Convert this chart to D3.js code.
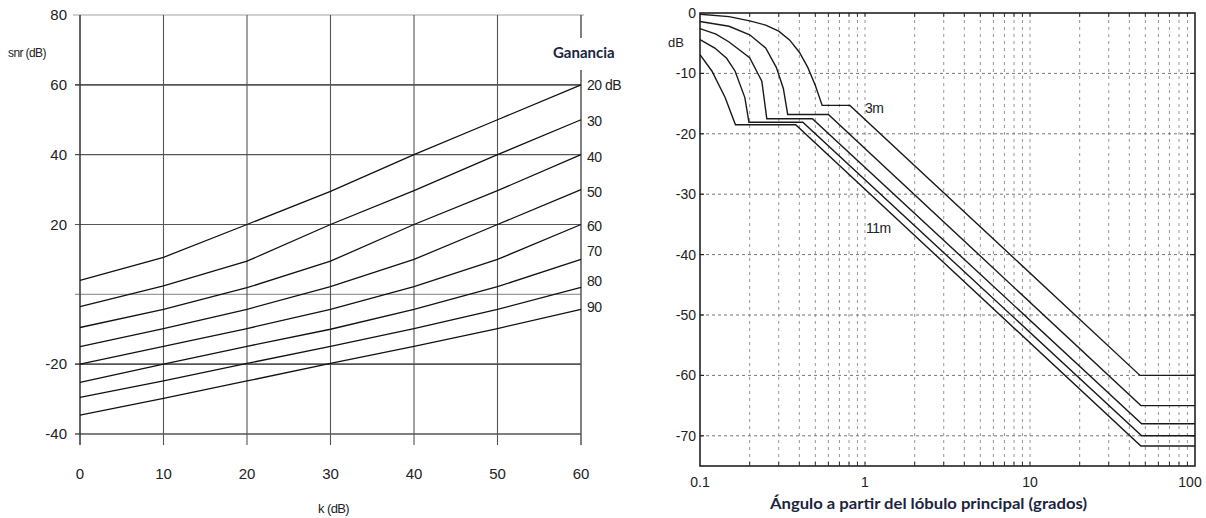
<!DOCTYPE html>
<html><head><meta charset="utf-8">
<script src="https://cdn.jsdelivr.net/npm/d3@7/dist/d3.min.js"></script>
<style>
html,body{margin:0;padding:0;background:#fff;}
svg{display:block;}
.num{font-family:"Liberation Sans Narrow","Arial Narrow","Liberation Sans",Arial,sans-serif;fill:#222;}
.ttl{font-family:Lato,"Open Sans",sans-serif;font-weight:700;fill:#1b2540;}
</style></head>
<body>
<svg id="c" width="1206" height="518"></svg>
<script>
// ---------- LEFT CHART DATA ----------
const kTicks = [0, 10, 20, 30, 40, 50, 60];
const snrTicks = [80, 60, 40, 20, 0, -20, -40];
const snrTickLabels = ["80", "60", "40", "20", "", "-20", "-40"];
const gainLabels = ["20 dB", "30", "40", "50", "60", "70", "80", "90"];
const kValues = [0, 10, 20, 30, 40, 50, 60];
const snrG20 = [4, 10.6, 20, 29.5, 40, 50, 60];
const snrG30 = [-3.5, 2.4, 9.5, 20, 29.7, 40, 50];
const snrG40 = [-9.5, -4.3, 1.9, 9.5, 20, 29.7, 40];
const snrG50 = [-15, -9.8, -4.3, 2.2, 10, 20, 30];
const snrG60 = [-20, -14.9, -9.8, -4.3, 2.2, 10, 20];
const snrG70 = [-25.2, -20, -14.9, -10, -4.3, 2.2, 10];
const snrG80 = [-29.5, -24.8, -19.8, -14.9, -9.8, -4.3, 2];
const snrG90 = [-34.6, -29.8, -24.8, -19.8, -14.9, -9.8, -4.3];
const gainSeries = [snrG20, snrG30, snrG40, snrG50, snrG60, snrG70, snrG80, snrG90];

// ---------- RIGHT CHART DATA ----------
const angleTicks = [0.1, 1, 10, 100];
const angleTickLabels = ["0.1", "1", "10", "100"];
const dbTicks = [0, -10, -20, -30, -40, -50, -60, -70];
// [angle (degrees), level (dB)]
const curve3m = [[0.1,-0.2],[0.15,-0.6],[0.2,-1.3],[0.25,-2],[0.3,-3],[0.35,-4.5],[0.4,-6.5],[0.45,-9],[0.5,-12],[0.55,-15.3],[0.81,-15.3],[46.4,-60],[100,-60]];
const curve5m = [[0.1,-1.4],[0.15,-2.2],[0.2,-3.6],[0.25,-5.8],[0.29,-9],[0.32,-12.5],[0.34,-16.8],[0.6,-16.8],[47,-65],[100,-65]];
const curve7m = [[0.1,-2.6],[0.125,-3.5],[0.15,-4.8],[0.2,-7.4],[0.237,-11.3],[0.254,-17.5],[0.48,-17.5],[47.5,-68],[100,-68]];
const curve9m = [[0.1,-4.4],[0.123,-5.8],[0.145,-7.5],[0.163,-9.6],[0.187,-14],[0.198,-18.1],[0.42,-18.1],[47.5,-70],[100,-70]];
const curve11m = [[0.1,-6.9],[0.118,-9.6],[0.142,-14],[0.164,-18.5],[0.38,-18.5],[47,-71.7],[100,-71.7]];
const curvesR = [curve3m, curve5m, curve7m, curve9m, curve11m];

const svg = d3.select("#c");

// ================= LEFT =================
const xL = d3.scaleLinear().domain([0, 60]).range([80, 581]);
const yL = d3.scaleLinear().domain([-40, 80]).range([434, 15]);
const L = svg.append("g");

// horizontal grid
snrTicks.forEach(v => {
  const top = v === 80, zero = v === 0;
  L.append("line")
    .attr("x1", xL(0) - (top ? 7 : 5)).attr("x2", xL(60) + (top ? 3 : 0))
    .attr("y1", yL(v)).attr("y2", yL(v))
    .attr("stroke", top ? "#d0d0d0" : zero ? "#9a9a9a" : "#555")
    .attr("stroke-width", top ? 2.2 : (v === 60 || v === -20 || v === -40) ? 1.6 : 1.1);
});
// vertical grid
kTicks.forEach(v => {
  L.append("line")
    .attr("x1", xL(v)).attr("x2", xL(v))
    .attr("y1", yL(80)).attr("y2", yL(-40) + 11)
    .attr("stroke", v === 0 ? "#333" : "#555")
    .attr("stroke-width", v === 0 || v === 60 ? 1.5 : 1.1);
});
// y tick labels
snrTicks.forEach((v, i) => {
  L.append("text").attr("class", "num")
    .attr("x", xL(0) - 13).attr("y", yL(v)).attr("dy", "0.35em")
    .attr("text-anchor", "end").attr("font-size", 15)
    .text(snrTickLabels[i]);
});
// x tick labels
kTicks.forEach(v => {
  L.append("text").attr("class", "num")
    .attr("x", xL(v)).attr("y", 474).attr("dy", "0.35em")
    .attr("text-anchor", "middle").attr("font-size", 15)
    .text(v);
});
L.append("text").attr("class", "num").attr("x", 8).attr("y", 57)
  .attr("font-size", 12).attr("letter-spacing", -0.6).text("snr (dB)");
L.append("text").attr("class", "num").attr("x", 318).attr("y", 513)
  .attr("font-size", 13).attr("letter-spacing", -0.6).text("k (dB)");

// curves
const lineL = d3.line().x((d, i) => xL(kValues[i])).y(d => yL(d));
gainSeries.forEach(s => {
  L.append("path").attr("d", lineL(s)).attr("fill", "none")
    .attr("stroke", "#111").attr("stroke-width", 1.3);
});
// gain labels
const labOffset = [0, 1, 2, 2.5, 2, -8, -6, -2];
gainSeries.forEach((s, i) => {
  L.append("text").attr("class", "num")
    .attr("x", xL(60) + 6).attr("y", yL(s[s.length - 1]) + labOffset[i]).attr("dy", "0.35em")
    .attr("font-size", 14).attr("letter-spacing", -0.5).text(gainLabels[i]);
});
// Ganancia label with white background
const gt = L.append("text").attr("class", "ttl")
  .attr("x", 553).attr("y", 58).attr("font-size", 15).text("Ganancia");
L.insert("rect", "text.ttl").attr("x", 550).attr("y", 38).attr("width", 72).attr("height", 32).attr("fill", "#fff");

// ================= RIGHT =================
const xR = d3.scaleLog().domain([0.1, 100]).range([700, 1195]);
const yR = d3.scaleLinear().domain([-75, 0]).range([466, 13]);
const R = svg.append("g");

const minor = xR.ticks().filter(v => v > 0.1 + 1e-9 && v < 100 - 1e-9);
minor.forEach(v => {
  R.append("line").attr("x1", xR(v)).attr("x2", xR(v))
    .attr("y1", yR(0)).attr("y2", yR(-75))
    .attr("stroke", "#8a8a8a").attr("stroke-width", 0.9)
    .attr("stroke-dasharray", "3,4");
  [yR(0), yR(-75) - 4].forEach(y0 => {
    R.append("line").attr("x1", xR(v)).attr("x2", xR(v))
      .attr("y1", y0).attr("y2", y0 + 4).attr("stroke", "#333").attr("stroke-width", 1);
  });
});
dbTicks.filter(v => v !== 0).forEach(v => {
  R.append("line").attr("x1", xR(0.1)).attr("x2", xR(100))
    .attr("y1", yR(v)).attr("y2", yR(v))
    .attr("stroke", "#777").attr("stroke-width", 1)
    .attr("stroke-dasharray", "3,3");
  R.append("line").attr("x1", xR(100) - 5).attr("x2", xR(100))
    .attr("y1", yR(v)).attr("y2", yR(v)).attr("stroke", "#222").attr("stroke-width", 1.2);
  R.append("line").attr("x1", xR(0.1)).attr("x2", xR(0.1) + 4)
    .attr("y1", yR(v)).attr("y2", yR(v)).attr("stroke", "#222").attr("stroke-width", 1.2);
});
// frame
R.append("rect").attr("x", xR(0.1)).attr("y", yR(0))
  .attr("width", xR(100) - xR(0.1)).attr("height", yR(-75) - yR(0))
  .attr("fill", "none").attr("stroke", "#222").attr("stroke-width", 1.6);

// curves
const lineR = d3.line().x(d => xR(d[0])).y(d => yR(d[1]));
curvesR.forEach(c => {
  R.append("path").attr("d", lineR(c)).attr("fill", "none")
    .attr("stroke", "#1a1a1a").attr("stroke-width", 1.4);
});

// y tick labels
dbTicks.forEach(v => {
  R.append("text").attr("class", "num")
    .attr("x", xR(0.1) - 4).attr("y", yR(v)).attr("dy", "0.35em")
    .attr("text-anchor", "end").attr("font-size", 14).text(v);
});
angleTicks.forEach((v, i) => {
  R.append("text").attr("class", "num")
    .attr("x", xR(v) + (v === 100 ? -5 : 0)).attr("y", 482).attr("dy", "0.35em")
    .attr("text-anchor", "middle").attr("font-size", 14).text(angleTickLabels[i]);
});
R.append("text").attr("class", "num").attr("x", 668).attr("y", 47)
  .attr("font-size", 13).text("dB");
R.append("text").attr("class", "num").attr("x", 865).attr("y", 113)
  .attr("font-size", 14).attr("letter-spacing", -0.5).text("3m");
R.append("text").attr("class", "num").attr("x", 866).attr("y", 233)
  .attr("font-size", 14).attr("letter-spacing", -0.5).text("11m");
R.append("text").attr("class", "ttl").attr("x", 770).attr("y", 509)
  .attr("font-size", 15).attr("textLength", 317).attr("lengthAdjust", "spacingAndGlyphs")
  .text("Ángulo a partir del lóbulo principal (grados)");
</script>
</body></html>
